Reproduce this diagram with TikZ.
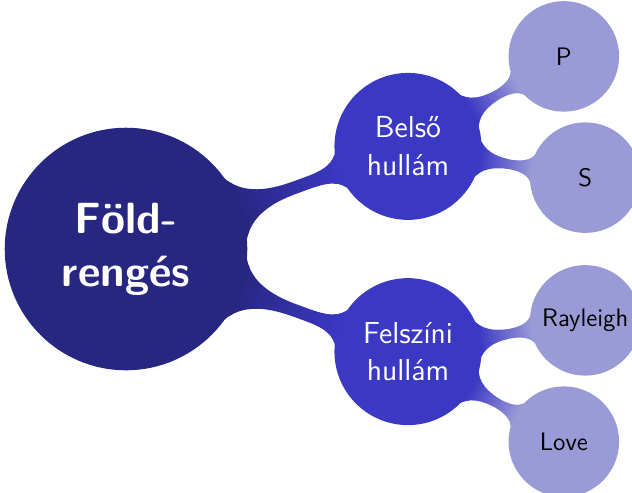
\documentclass[tikz,border=0pt]{standalone}
\usetikzlibrary{mindmap}
\definecolor{rootblue}{HTML}{272782}
\definecolor{waveblue}{HTML}{3B38C4}
\definecolor{typeblue}{HTML}{9A9AD7}

\begin{document}
\begin{tikzpicture}[mindmap, every node/.style={concept, align=center, inner sep=0pt}]

\tikzstyle{rootnode}=[concept color=rootblue, text=white, minimum size=4cm, text width=3.6cm, font=\sffamily\bfseries\huge]
\tikzstyle{wavenode}=[concept color=waveblue, text=white, minimum size=2.35cm, text width=2.2cm, font=\sffamily\Large]
\tikzstyle{typenode}=[concept color=typeblue, text=black, minimum size=1.8cm, text width=1.7cm, font=\sffamily\large]

\useasboundingbox (-2.1,-4.05) rectangle (8.433,4.15);

\node [rootnode] (quake) at (0,0) {Föld-\\rengés};
\node [wavenode] (body) at (20:5) {Belső\\hullám};
\node [wavenode] (surface) at (-20:5) {Felszíni\\hullám};

\node [typenode] (p) at ([shift={(30:3)}]body) {P};
\node [typenode] (s) at ([shift={(-10:3)}]body) {S};
\node [typenode] (rayleigh) at ([shift={(10:3)}]surface) {Rayleigh};
\node [typenode] (love) at ([shift={(-30:3)}]surface) {Love};

\path (quake) to [circle connection bar switch color=from (rootblue) to (waveblue)] (body);
\path (quake) to [circle connection bar switch color=from (rootblue) to (waveblue)] (surface);
\path (body) to [circle connection bar switch color=from (waveblue) to (typeblue)] (p);
\path (body) to [circle connection bar switch color=from (waveblue) to (typeblue)] (s);
\path (surface) to [circle connection bar switch color=from (waveblue) to (typeblue)] (rayleigh);
\path (surface) to [circle connection bar switch color=from (waveblue) to (typeblue)] (love);

\end{tikzpicture}
\end{document}
